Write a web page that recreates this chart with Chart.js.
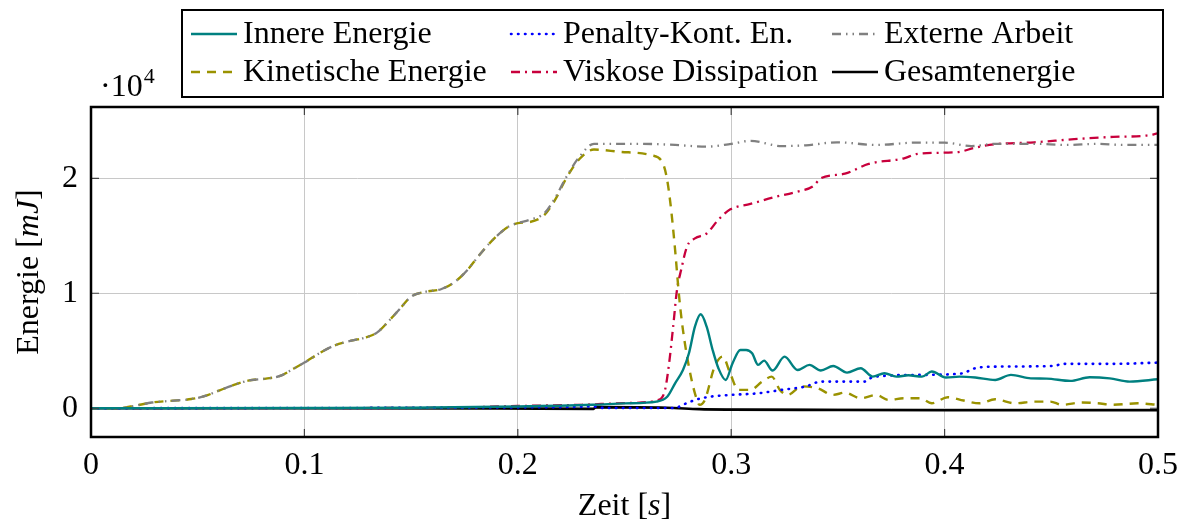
<!DOCTYPE html>
<html>
<head>
<meta charset="utf-8">
<script src="https://cdn.jsdelivr.net/npm/chart.js@4.4.1/dist/chart.umd.min.js"></script>
<style>
  html, body { margin: 0; padding: 0; background: #fff; }
  #wrap { width: 1195px; height: 529px; position: relative; }
</style>
</head>
<body>
<div id="wrap"><canvas id="energy-chart" width="1195" height="529"></canvas></div>
<script>
// Werte in mJ
const xTicks = [0, 0.1, 0.2, 0.3, 0.4, 0.5];
const yTicks = [0, 10000, 20000];
const yTickLabels = ['0', '1', '2'];

const tInnere = [0, 0.1, 0.15, 0.2, 0.235, 0.25, 0.265, 0.27, 0.2737, 0.2774, 0.2802, 0.283, 0.2857, 0.2885, 0.2913, 0.294, 0.2974, 0.3006, 0.3043, 0.307, 0.3098, 0.3126, 0.3154, 0.3194, 0.325, 0.3311, 0.3367, 0.342, 0.3478, 0.3543, 0.3607, 0.3663, 0.3718, 0.3774, 0.383, 0.3894, 0.394, 0.4006, 0.407, 0.4144, 0.4237, 0.4311, 0.4404, 0.4478, 0.4589, 0.468, 0.4774, 0.4867, 0.5];
const innere = [0, 20, 50, 150, 300, 420, 580, 1000, 2170, 3330, 4780, 7100, 8170, 7100, 5070, 3480, 2460, 3900, 5070, 5070, 4780, 3770, 4140, 3280, 4490, 3330, 3770, 3280, 3680, 3100, 3480, 2750, 3040, 2750, 2870, 2750, 3190, 2670, 2750, 2670, 2460, 2900, 2600, 2580, 2380, 2700, 2600, 2320, 2520];

const tKinetisch = [0, 0.013, 0.02, 0.0285, 0.037, 0.047, 0.0535, 0.06, 0.067, 0.0736, 0.082, 0.0886, 0.0953, 0.1, 0.107, 0.114, 0.122, 0.129, 0.134, 0.14, 0.145, 0.15, 0.157, 0.164, 0.1706, 0.1764, 0.182, 0.189, 0.1957, 0.2, 0.2057, 0.2124, 0.2174, 0.2224, 0.229, 0.2357, 0.248, 0.2626, 0.268, 0.27, 0.2719, 0.2737, 0.2756, 0.2774, 0.2802, 0.283, 0.2852, 0.2876, 0.2922, 0.296, 0.2996, 0.3033, 0.309, 0.3144, 0.319, 0.3228, 0.3265, 0.333, 0.3404, 0.3478, 0.3533, 0.3607, 0.368, 0.3737, 0.381, 0.3885, 0.394, 0.4015, 0.4089, 0.4163, 0.4237, 0.433, 0.442, 0.4496, 0.455, 0.4644, 0.4718, 0.479, 0.4904, 0.5];
const kinetisch = [0, 0, 200, 500, 640, 800, 1070, 1540, 2030, 2400, 2580, 2810, 3480, 3970, 4780, 5450, 5880, 6170, 6580, 7680, 8700, 9710, 10140, 10350, 11010, 12030, 13330, 14780, 15800, 16100, 16200, 16800, 18100, 19900, 21700, 22500, 22300, 22000, 21300, 19850, 17200, 13800, 9700, 6800, 3600, 1300, 300, 700, 3600, 4500, 3000, 1600, 1600, 2300, 2750, 1600, 1160, 1900, 1740, 1160, 1360, 870, 1160, 720, 870, 870, 430, 960, 670, 430, 780, 430, 580, 580, 300, 500, 430, 300, 430, 300];

const tPenalty = [0, 0.22, 0.235, 0.24, 0.2737, 0.2774, 0.283, 0.29, 0.2996, 0.3126, 0.3237, 0.335, 0.342, 0.3626, 0.3663, 0.3867, 0.4089, 0.4126, 0.4237, 0.4515, 0.455, 0.479, 0.5];
const penalty = [0, 100, 150, 30, 20, 300, 720, 1000, 1160, 1300, 1600, 1900, 2320, 2320, 2700, 2900, 3040, 3390, 3620, 3680, 3860, 3860, 3970];

const tViskos = [0, 0.15, 0.18, 0.2, 0.23, 0.25, 0.266, 0.269, 0.2709, 0.2728, 0.2746, 0.2765, 0.2793, 0.283, 0.2885, 0.294, 0.2996, 0.309, 0.32, 0.331, 0.3385, 0.342, 0.3533, 0.3644, 0.381, 0.3867, 0.3996, 0.407, 0.4144, 0.4237, 0.442, 0.4607, 0.479, 0.494, 0.5];
const viskos = [0, 30, 100, 200, 300, 450, 720, 1600, 3900, 7100, 10300, 12000, 14060, 14780, 15200, 16400, 17300, 17770, 18350, 18840, 19330, 20000, 20400, 21250, 21740, 22100, 22230, 22300, 22670, 22960, 23130, 23400, 23600, 23700, 23900];

const tExtern = [0, 0.013, 0.02, 0.0285, 0.037, 0.047, 0.0535, 0.06, 0.067, 0.0736, 0.082, 0.0886, 0.0953, 0.1, 0.107, 0.114, 0.122, 0.129, 0.134, 0.14, 0.145, 0.15, 0.157, 0.164, 0.1706, 0.1764, 0.182, 0.189, 0.1957, 0.2, 0.2057, 0.2124, 0.2174, 0.2224, 0.229, 0.2357, 0.246, 0.257, 0.2737, 0.2885, 0.3, 0.309, 0.3237, 0.335, 0.3496, 0.368, 0.3867, 0.4, 0.4126, 0.4237, 0.442, 0.457, 0.472, 0.483, 0.5];
const extern = [0, 0, 200, 500, 640, 800, 1070, 1540, 2030, 2400, 2580, 2810, 3480, 3970, 4780, 5450, 5880, 6170, 6580, 7680, 8700, 9710, 10140, 10350, 11010, 12030, 13330, 14780, 15800, 16100, 16400, 16950, 18260, 20000, 21900, 23000, 23000, 23000, 22900, 22750, 23000, 23250, 22800, 22870, 23130, 22900, 23100, 23100, 22800, 23000, 23000, 22900, 23000, 22900, 22900];

const tGesamt = [0, 0.19, 0.2355, 0.2365, 0.27, 0.285, 0.3, 0.35, 0.4, 0.5];
const gesamt = [0, -20, -50, 100, 50, -80, -120, -150, -170, -180];

const FONT = '"Liberation Serif", "Times New Roman", serif';
const FS = 32;

const toPoints = (ts, vs) => ts.map((t, i) => ({ x: t, y: vs[i] }));

const makeDataset = (label, ts, vs, color, dash, width) => ({
  label,
  data: toPoints(ts, vs),
  borderColor: color,
  backgroundColor: color,
  borderWidth: width,
  borderDash: dash,
  borderCapStyle: dash.length && dash[0] < 2 ? 'round' : 'butt',
  pointRadius: 0,
  cubicInterpolationMode: 'monotone',
  fill: false
});

// Reihenfolge wie in der Legende (zeilenweise)
const datasets = [
  makeDataset('Innere Energie', tInnere, innere, '#008080', [], 2.4),
  makeDataset('Penalty-Kont. En.', tPenalty, penalty, '#0000ff', [0.5, 6.5], 2.6),
  makeDataset('Externe Arbeit', tExtern, extern, '#808080', [9, 5, 1.5, 5, 1.5, 5], 2.3),
  makeDataset('Kinetische Energie', tKinetisch, kinetisch, '#9a9200', [9, 7], 2.4),
  makeDataset('Viskose Dissipation', tViskos, viskos, '#c8003c', [9, 5, 2, 5], 2.3),
  makeDataset('Gesamtenergie', tGesamt, gesamt, '#000000', [], 2.6)
];

const legendPlugin = {
  id: 'texLegend',
  afterDraw(chart) {
    const ctx = chart.ctx;
    ctx.save();
    ctx.strokeStyle = '#000';
    ctx.lineWidth = 2;
    ctx.strokeRect(182, 10, 981, 87);
    const cols = [191, 511, 832];
    const rows = [34, 72];
    chart.data.datasets.forEach((ds, i) => {
      const x = cols[i % 3];
      const y = rows[Math.floor(i / 3)];
      ctx.beginPath();
      ctx.strokeStyle = ds.borderColor;
      ctx.lineWidth = ds.borderWidth;
      ctx.setLineDash(ds.borderDash);
      ctx.lineCap = ds.borderCapStyle;
      ctx.moveTo(x, y);
      ctx.lineTo(x + 46, y);
      ctx.stroke();
      ctx.setLineDash([]);
      ctx.fillStyle = '#000';
      ctx.font = FS + 'px ' + FONT;
      ctx.textBaseline = 'alphabetic';
      ctx.textAlign = 'left';
      ctx.fillText(ds.label, x + 52, y + 9);
    });
    ctx.restore();
  }
};

const framePlugin = {
  id: 'texFrame',
  afterDatasetsDraw(chart) {
    const { ctx, chartArea: a, scales } = chart;
    ctx.save();
    ctx.strokeStyle = '#444';
    ctx.lineWidth = 1.2;
    xTicks.forEach(v => {
      const px = scales.x.getPixelForValue(v);
      ctx.beginPath();
      ctx.moveTo(px, a.bottom); ctx.lineTo(px, a.bottom - 8);
      ctx.moveTo(px, a.top); ctx.lineTo(px, a.top + 8);
      ctx.stroke();
    });
    yTicks.forEach(v => {
      const py = scales.y.getPixelForValue(v);
      ctx.beginPath();
      ctx.moveTo(a.left, py); ctx.lineTo(a.left + 8, py);
      ctx.moveTo(a.right, py); ctx.lineTo(a.right - 8, py);
      ctx.stroke();
    });
    ctx.strokeStyle = '#000';
    ctx.lineWidth = 2.5;
    ctx.strokeRect(a.left, a.top, a.right - a.left, a.bottom - a.top);
    ctx.restore();
  },
  afterDraw(chart) {
    const { ctx, chartArea: a } = chart;
    ctx.save();
    ctx.fillStyle = '#000';
    ctx.textBaseline = 'alphabetic';
    // Faktor an der y-Achse
    ctx.font = FS + 'px ' + FONT;
    ctx.textAlign = 'left';
    ctx.fillText('\u00b710', 100, 96);
    const w = ctx.measureText('\u00b710').width;
    ctx.font = '22px ' + FONT;
    ctx.fillText('4', 100 + w + 1, 83);

    // x-Achsentitel: Zeit [s]
    const parts = (segs) => segs.map(([txt, it]) => {
      ctx.font = (it ? 'italic ' : '') + FS + 'px ' + FONT;
      return { txt, it, w: ctx.measureText(txt).width };
    });
    const xt = parts([['Zeit [', false], ['s', true], [']', false]]);
    let total = xt.reduce((s, p) => s + p.w, 0);
    let cx = (a.left + a.right) / 2 - total / 2;
    xt.forEach(p => {
      ctx.font = (p.it ? 'italic ' : '') + FS + 'px ' + FONT;
      ctx.fillText(p.txt, cx, 515);
      cx += p.w;
    });

    // y-Achsentitel: Energie [mJ]
    const yt = parts([['Energie [', false], ['mJ', true], [']', false]]);
    total = yt.reduce((s, p) => s + p.w, 0);
    ctx.translate(38, (a.top + a.bottom) / 2);
    ctx.rotate(-Math.PI / 2);
    cx = -total / 2;
    yt.forEach(p => {
      ctx.font = (p.it ? 'italic ' : '') + FS + 'px ' + FONT;
      ctx.fillText(p.txt, cx, 0);
      cx += p.w;
    });
    ctx.restore();
  }
};

const ctx = document.getElementById('energy-chart').getContext('2d');
new Chart(ctx, {
  type: 'line',
  data: { datasets },
  options: {
    responsive: false,
    animation: false,
    events: [],
    layout: { padding: { left: 0, right: 37, top: 107, bottom: 0 } },
    plugins: {
      legend: { display: false },
      tooltip: { enabled: false }
    },
    scales: {
      x: {
        type: 'linear',
        min: 0,
        max: 0.5,
        afterBuildTicks: scale => { scale.ticks = xTicks.map(v => ({ value: v })); },
        afterFit: scale => { scale.height = 92; },
        grid: { color: '#c8c8c8', lineWidth: 1, drawTicks: false },
        border: { display: false },
        ticks: {
          color: '#000',
          padding: 9,
          maxRotation: 0,
          font: { family: FONT, size: FS },
          callback: v => String(v)
        }
      },
      y: {
        min: -2500,
        max: 26200,
        afterBuildTicks: scale => { scale.ticks = yTicks.map(v => ({ value: v })); },
        afterFit: scale => { scale.width = 91; },
        grid: { color: '#c8c8c8', lineWidth: 1, drawTicks: false },
        border: { display: false },
        ticks: {
          color: '#000',
          padding: 13,
          font: { family: FONT, size: FS },
          callback: v => yTickLabels[yTicks.indexOf(v)]
        }
      }
    }
  },
  plugins: [legendPlugin, framePlugin]
});
</script>
</body>
</html>
